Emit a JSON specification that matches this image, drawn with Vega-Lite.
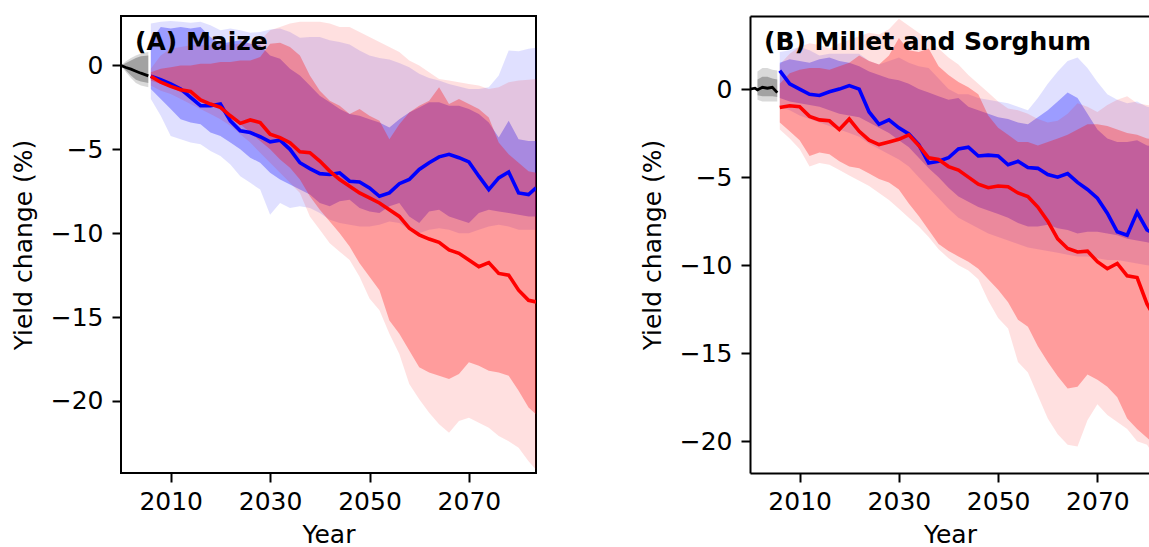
{
  "$schema": "https://vega.github.io/schema/vega-lite/v6.json",
  "padding": {"left": 10, "top": 15, "right": 0, "bottom": 0},
  "background": "white",
  "spacing": 103,
  "config": {
    "font": "DejaVu Sans",
    "view": {"stroke": "#000", "strokeWidth": 2},
    "axis": {
      "labelFont": "DejaVu Sans", "labelFontSize": 25, "labelColor": "#000",
      "titleFont": "DejaVu Sans", "titleFontSize": 25, "titleFontWeight": "normal", "titleColor": "#000",
      "tickColor": "#000", "tickWidth": 2, "tickSize": 9,
      "domainColor": "#000", "domainWidth": 2, "grid": false
    },
    "axisX": {"labelPadding": 7, "titlePadding": 8, "labelFlush": false},
    "axisY": {"labelPadding": 9, "titlePadding": 14, "labelFlush": false}
  },
  "datasets": {
    "maize": [
      {"year":2006,"bol":-2.0,"bil":-1.4,"biu":1.5,"bou":2.5,"rol":-1.2,"ril":-0.9,"riu":-0.4,"rou":-0.2,"bm":-0.64,"rm":-0.64},
      {"year":2008,"bol":-3.0,"bil":-2.0,"biu":2.3,"bou":2.6,"rol":-1.5,"ril":-1.1,"riu":-0.2,"rou":0.6,"bm":-0.85,"rm":-1.0},
      {"year":2010,"bol":-4.2,"bil":-2.6,"biu":2.2,"bou":2.65,"rol":-1.7,"ril":-1.3,"riu":-0.1,"rou":1.0,"bm":-1.1,"rm":-1.25},
      {"year":2012,"bol":-4.4,"bil":-3.2,"biu":2.3,"bou":2.6,"rol":-2.0,"ril":-1.6,"riu":0.0,"rou":1.1,"bm":-1.4,"rm":-1.45},
      {"year":2014,"bol":-4.6,"bil":-3.4,"biu":2.2,"bou":2.55,"rol":-2.3,"ril":-1.9,"riu":0.0,"rou":1.2,"bm":-1.9,"rm":-1.55},
      {"year":2016,"bol":-4.7,"bil":-3.5,"biu":2.3,"bou":2.6,"rol":-2.6,"ril":-2.2,"riu":0.1,"rou":1.2,"bm":-2.4,"rm":-2.05},
      {"year":2018,"bol":-5.1,"bil":-4.0,"biu":1.7,"bou":2.4,"rol":-2.9,"ril":-2.4,"riu":0.1,"rou":1.2,"bm":-2.4,"rm":-2.3},
      {"year":2020,"bol":-5.4,"bil":-4.2,"biu":1.3,"bou":2.1,"rol":-3.2,"ril":-2.6,"riu":0.2,"rou":1.2,"bm":-2.3,"rm":-2.5},
      {"year":2022,"bol":-5.9,"bil":-4.6,"biu":1.4,"bou":2.2,"rol":-3.6,"ril":-3.0,"riu":0.2,"rou":1.25,"bm":-3.3,"rm":-3.0},
      {"year":2024,"bol":-6.6,"bil":-5.0,"biu":1.5,"bou":2.1,"rol":-4.1,"ril":-3.5,"riu":0.3,"rou":1.3,"bm":-3.9,"rm":-3.45},
      {"year":2026,"bol":-7.0,"bil":-5.5,"biu":1.3,"bou":1.95,"rol":-4.6,"ril":-4.0,"riu":0.3,"rou":1.35,"bm":-4.0,"rm":-3.25},
      {"year":2028,"bol":-7.4,"bil":-5.8,"biu":1.2,"bou":2.0,"rol":-5.2,"ril":-4.5,"riu":0.5,"rou":1.5,"bm":-4.25,"rm":-3.4},
      {"year":2030,"bol":-8.9,"bil":-6.4,"biu":0.6,"bou":2.15,"rol":-5.8,"ril":-5.0,"riu":1.3,"rou":2.1,"bm":-4.55,"rm":-4.1},
      {"year":2032,"bol":-8.2,"bil":-6.8,"biu":0.4,"bou":2.2,"rol":-6.4,"ril":-5.6,"riu":1.35,"rou":2.3,"bm":-4.45,"rm":-4.3},
      {"year":2034,"bol":-8.5,"bil":-7.1,"biu":-0.2,"bou":2.0,"rol":-7.0,"ril":-6.1,"riu":1.1,"rou":2.5,"bm":-5.0,"rm":-4.6},
      {"year":2036,"bol":-8.4,"bil":-7.4,"biu":-0.6,"bou":1.65,"rol":-7.6,"ril":-6.8,"riu":0.6,"rou":2.6,"bm":-5.8,"rm":-5.15},
      {"year":2038,"bol":-8.5,"bil":-7.7,"biu":-1.2,"bou":1.7,"rol":-9.0,"ril":-7.8,"riu":-0.6,"rou":2.6,"bm":-6.15,"rm":-5.2},
      {"year":2040,"bol":-8.8,"bil":-8.2,"biu":-1.8,"bou":1.7,"rol":-9.8,"ril":-8.6,"riu":-1.5,"rou":2.6,"bm":-6.45,"rm":-5.7},
      {"year":2042,"bol":-9.2,"bil":-8.4,"biu":-2.2,"bou":1.5,"rol":-10.6,"ril":-9.3,"riu":-2.1,"rou":2.5,"bm":-6.5,"rm":-6.3},
      {"year":2044,"bol":-9.4,"bil":-8.1,"biu":-2.6,"bou":1.4,"rol":-11.1,"ril":-10.0,"riu":-2.4,"rou":2.3,"bm":-6.4,"rm":-6.8},
      {"year":2046,"bol":-9.5,"bil":-8.0,"biu":-2.9,"bou":1.25,"rol":-11.6,"ril":-10.8,"riu":-2.9,"rou":2.3,"bm":-6.9,"rm":-7.2},
      {"year":2048,"bol":-9.6,"bil":-8.5,"biu":-3.0,"bou":0.9,"rol":-12.6,"ril":-11.8,"riu":-2.6,"rou":2.0,"bm":-6.95,"rm":-7.6},
      {"year":2050,"bol":-9.6,"bil":-8.7,"biu":-3.2,"bou":0.6,"rol":-13.9,"ril":-12.6,"riu":-3.0,"rou":1.7,"bm":-7.3,"rm":-7.9},
      {"year":2052,"bol":-9.5,"bil":-8.8,"biu":-3.4,"bou":0.45,"rol":-14.6,"ril":-13.4,"riu":-3.3,"rou":1.4,"bm":-7.8,"rm":-8.2},
      {"year":2054,"bol":-9.3,"bil":-8.4,"biu":-3.7,"bou":0.35,"rol":-16.0,"ril":-15.2,"riu":-4.4,"rou":1.1,"bm":-7.6,"rm":-8.6},
      {"year":2056,"bol":-9.4,"bil":-8.2,"biu":-3.2,"bou":0.15,"rol":-17.2,"ril":-16.0,"riu":-3.5,"rou":0.8,"bm":-7.05,"rm":-9.0},
      {"year":2058,"bol":-9.8,"bil":-9.0,"biu":-2.8,"bou":-0.1,"rol":-19.0,"ril":-17.0,"riu":-2.8,"rou":0.3,"bm":-6.8,"rm":-9.7},
      {"year":2060,"bol":-10.0,"bil":-9.4,"biu":-2.5,"bou":-0.5,"rol":-19.9,"ril":-18.0,"riu":-2.4,"rou":0.0,"bm":-6.2,"rm":-10.1},
      {"year":2062,"bol":-9.8,"bil":-8.7,"biu":-2.2,"bou":-0.75,"rol":-20.7,"ril":-18.3,"riu":-2.1,"rou":-0.4,"bm":-5.8,"rm":-10.35},
      {"year":2064,"bol":-9.7,"bil":-8.6,"biu":-2.2,"bou":-0.9,"rol":-21.4,"ril":-18.5,"riu":-1.3,"rou":-0.8,"bm":-5.45,"rm":-10.55},
      {"year":2066,"bol":-9.8,"bil":-9.0,"biu":-2.4,"bou":-1.1,"rol":-21.9,"ril":-18.7,"riu":-2.3,"rou":-0.9,"bm":-5.3,"rm":-11.0},
      {"year":2068,"bol":-10.0,"bil":-9.2,"biu":-2.4,"bou":-1.25,"rol":-21.2,"ril":-18.4,"riu":-2.0,"rou":-1.0,"bm":-5.5,"rm":-11.2},
      {"year":2070,"bol":-10.0,"bil":-9.4,"biu":-2.6,"bou":-1.4,"rol":-21.0,"ril":-17.7,"riu":-2.3,"rou":-1.1,"bm":-5.75,"rm":-11.6},
      {"year":2072,"bol":-9.8,"bil":-8.8,"biu":-2.9,"bou":-1.4,"rol":-21.3,"ril":-17.9,"riu":-2.6,"rou":-1.2,"bm":-6.6,"rm":-12.0},
      {"year":2074,"bol":-9.6,"bil":-8.6,"biu":-3.4,"bou":-1.3,"rol":-21.6,"ril":-18.2,"riu":-3.1,"rou":-1.4,"bm":-7.4,"rm":-11.75},
      {"year":2076,"bol":-9.5,"bil":-8.7,"biu":-4.3,"bou":-0.6,"rol":-22.1,"ril":-18.3,"riu":-4.6,"rou":-1.3,"bm":-6.7,"rm":-12.4},
      {"year":2078,"bol":-9.6,"bil":-8.8,"biu":-3.3,"bou":0.9,"rol":-22.4,"ril":-18.5,"riu":-5.3,"rou":-1.0,"bm":-6.35,"rm":-12.5},
      {"year":2080,"bol":-9.8,"bil":-8.9,"biu":-4.4,"bou":0.85,"rol":-22.8,"ril":-19.4,"riu":-5.8,"rou":-0.9,"bm":-7.6,"rm":-13.4},
      {"year":2082,"bol":-9.8,"bil":-9.0,"biu":-4.5,"bou":1.0,"rol":-23.6,"ril":-20.4,"riu":-6.3,"rou":-0.85,"bm":-7.7,"rm":-14.0},
      {"year":2083.5,"bol":-9.8,"bil":-9.0,"biu":-4.5,"bou":1.05,"rol":-24.1,"ril":-20.8,"riu":-6.4,"rou":-0.8,"bm":-7.3,"rm":-14.1}
    ],
    "millet": [
      {"year":2006,"bol":-1.0,"bil":-0.5,"biu":1.5,"bou":2.1,"rol":-2.3,"ril":-1.9,"riu":0.3,"rou":1.4,"bm":1.05,"rm":-1.05},
      {"year":2008,"bol":-1.2,"bil":-0.7,"biu":1.7,"bou":2.2,"rol":-2.8,"ril":-2.4,"riu":0.9,"rou":2.0,"bm":0.3,"rm":-0.95},
      {"year":2010,"bol":-1.5,"bil":-0.8,"biu":1.6,"bou":2.4,"rol":-3.4,"ril":-2.9,"riu":1.1,"rou":2.4,"bm":0.0,"rm":-1.0},
      {"year":2012,"bol":-1.7,"bil":-0.9,"biu":1.5,"bou":2.2,"rol":-4.4,"ril":-3.8,"riu":1.2,"rou":2.6,"bm":-0.3,"rm":-1.55},
      {"year":2014,"bol":-1.9,"bil":-1.0,"biu":1.7,"bou":1.9,"rol":-4.2,"ril":-3.6,"riu":1.2,"rou":2.5,"bm":-0.36,"rm":-1.75},
      {"year":2016,"bol":-2.1,"bil":-1.2,"biu":1.8,"bou":2.0,"rol":-4.3,"ril":-3.7,"riu":1.1,"rou":2.3,"bm":-0.15,"rm":-1.8},
      {"year":2018,"bol":-2.3,"bil":-1.4,"biu":1.6,"bou":2.0,"rol":-4.6,"ril":-4.1,"riu":1.3,"rou":2.6,"bm":0.0,"rm":-2.3},
      {"year":2020,"bol":-2.5,"bil":-1.5,"biu":1.5,"bou":2.0,"rol":-4.9,"ril":-4.4,"riu":1.5,"rou":2.8,"bm":0.2,"rm":-1.7},
      {"year":2022,"bol":-2.7,"bil":-1.6,"biu":1.3,"bou":2.0,"rol":-5.2,"ril":-4.5,"riu":1.9,"rou":3.0,"bm":0.0,"rm":-2.4},
      {"year":2024,"bol":-3.1,"bil":-1.9,"biu":1.0,"bou":1.6,"rol":-5.5,"ril":-4.8,"riu":1.6,"rou":3.2,"bm":-1.3,"rm":-2.9},
      {"year":2026,"bol":-3.4,"bil":-2.2,"biu":0.8,"bou":1.4,"rol":-5.9,"ril":-5.1,"riu":1.4,"rou":3.1,"bm":-2.0,"rm":-3.15},
      {"year":2028,"bol":-3.7,"bil":-2.5,"biu":0.6,"bou":1.6,"rol":-6.3,"ril":-5.3,"riu":1.9,"rou":3.4,"bm":-1.75,"rm":-3.0},
      {"year":2030,"bol":-4.0,"bil":-2.9,"biu":0.5,"bou":1.8,"rol":-6.8,"ril":-5.7,"riu":2.9,"rou":4.0,"bm":-2.2,"rm":-2.85},
      {"year":2032,"bol":-4.4,"bil":-3.3,"biu":0.3,"bou":1.5,"rol":-7.3,"ril":-6.5,"riu":2.2,"rou":3.6,"bm":-2.55,"rm":-2.6},
      {"year":2034,"bol":-5.0,"bil":-3.9,"biu":0.0,"bou":1.3,"rol":-7.8,"ril":-7.2,"riu":2.1,"rou":3.2,"bm":-3.15,"rm":-3.2},
      {"year":2036,"bol":-5.6,"bil":-4.5,"biu":-0.2,"bou":1.2,"rol":-8.4,"ril":-8.0,"riu":2.3,"rou":2.8,"bm":-4.2,"rm":-3.9},
      {"year":2038,"bol":-6.2,"bil":-5.0,"biu":-0.4,"bou":0.6,"rol":-9.1,"ril":-8.8,"riu":1.3,"rou":2.3,"bm":-4.1,"rm":-4.0},
      {"year":2040,"bol":-6.8,"bil":-5.6,"biu":-0.6,"bou":0.0,"rol":-9.6,"ril":-9.2,"riu":0.8,"rou":1.8,"bm":-3.9,"rm":-4.4},
      {"year":2042,"bol":-7.3,"bil":-6.1,"biu":-0.5,"bou":-0.3,"rol":-10.0,"ril":-9.5,"riu":0.4,"rou":1.4,"bm":-3.4,"rm":-4.6},
      {"year":2044,"bol":-7.6,"bil":-6.4,"biu":-1.0,"bou":-0.3,"rol":-10.3,"ril":-9.8,"riu":0.1,"rou":0.8,"bm":-3.3,"rm":-5.0},
      {"year":2046,"bol":-7.9,"bil":-6.7,"biu":-1.2,"bou":-0.5,"rol":-10.8,"ril":-10.2,"riu":-0.3,"rou":0.3,"bm":-3.8,"rm":-5.4},
      {"year":2048,"bol":-8.2,"bil":-6.9,"biu":-1.4,"bou":-0.6,"rol":-12.0,"ril":-10.8,"riu":-1.5,"rou":-0.2,"bm":-3.75,"rm":-5.6},
      {"year":2050,"bol":-8.4,"bil":-7.1,"biu":-1.6,"bou":-0.7,"rol":-13.0,"ril":-11.4,"riu":-2.2,"rou":-0.7,"bm":-3.8,"rm":-5.5},
      {"year":2052,"bol":-8.6,"bil":-7.3,"biu":-1.7,"bou":-0.8,"rol":-13.6,"ril":-12.1,"riu":-2.6,"rou":-1.1,"bm":-4.3,"rm":-5.55},
      {"year":2054,"bol":-8.8,"bil":-7.6,"biu":-1.9,"bou":-1.0,"rol":-15.5,"ril":-13.1,"riu":-3.0,"rou":-1.2,"bm":-4.1,"rm":-5.9},
      {"year":2056,"bol":-9.0,"bil":-7.8,"biu":-2.0,"bou":-1.2,"rol":-16.1,"ril":-13.5,"riu":-3.0,"rou":-1.4,"bm":-4.45,"rm":-6.1},
      {"year":2058,"bol":-9.1,"bil":-7.8,"biu":-1.6,"bou":-0.5,"rol":-17.4,"ril":-14.6,"riu":-3.2,"rou":-1.7,"bm":-4.5,"rm":-6.7},
      {"year":2060,"bol":-9.2,"bil":-7.7,"biu":-1.2,"bou":0.3,"rol":-18.7,"ril":-15.5,"riu":-3.0,"rou":-1.9,"bm":-4.85,"rm":-7.5},
      {"year":2062,"bol":-9.3,"bil":-7.9,"biu":-0.7,"bou":1.0,"rol":-19.6,"ril":-16.3,"riu":-2.8,"rou":-1.8,"bm":-5.0,"rm":-8.5},
      {"year":2064,"bol":-9.4,"bil":-8.0,"biu":-0.2,"bou":1.6,"rol":-20.2,"ril":-17.0,"riu":-2.6,"rou":-1.4,"bm":-4.8,"rm":-9.05},
      {"year":2066,"bol":-9.5,"bil":-8.2,"biu":-0.5,"bou":1.8,"rol":-20.3,"ril":-16.9,"riu":-2.3,"rou":-0.8,"bm":-5.3,"rm":-9.25},
      {"year":2068,"bol":-9.5,"bil":-8.1,"biu":-1.4,"bou":1.2,"rol":-18.8,"ril":-16.2,"riu":-2.0,"rou":-1.0,"bm":-5.7,"rm":-9.2},
      {"year":2070,"bol":-9.6,"bil":-8.1,"biu":-2.3,"bou":0.4,"rol":-17.9,"ril":-16.5,"riu":-2.0,"rou":-1.3,"bm":-6.2,"rm":-9.8},
      {"year":2072,"bol":-9.7,"bil":-8.2,"biu":-2.8,"bou":-0.3,"rol":-18.5,"ril":-16.9,"riu":-2.1,"rou":-0.9,"bm":-7.05,"rm":-10.2},
      {"year":2074,"bol":-9.7,"bil":-8.3,"biu":-3.0,"bou":-0.6,"rol":-18.9,"ril":-17.5,"riu":-2.3,"rou":-0.6,"bm":-8.1,"rm":-9.9},
      {"year":2076,"bol":-9.8,"bil":-8.5,"biu":-3.0,"bou":-0.8,"rol":-19.3,"ril":-18.7,"riu":-2.5,"rou":-0.4,"bm":-8.3,"rm":-10.6},
      {"year":2078,"bol":-9.9,"bil":-8.6,"biu":-2.9,"bou":-0.7,"rol":-20.0,"ril":-19.3,"riu":-2.6,"rou":-0.8,"bm":-7.0,"rm":-10.7},
      {"year":2080,"bol":-10.0,"bil":-8.7,"biu":-3.2,"bou":-1.0,"rol":-20.2,"ril":-19.8,"riu":-2.8,"rou":-0.9,"bm":-8.0,"rm":-12.2},
      {"year":2082,"bol":-10.1,"bil":-8.8,"biu":-3.3,"bou":-1.1,"rol":-21.0,"ril":-20.3,"riu":-2.9,"rou":-1.0,"bm":-8.3,"rm":-13.2}
    ],
    "histA": [
      {"year":2000,"med":0.0,"olo":0.0,"ilo":0.0,"ihi":0.0,"ohi":0.0},
      {"year":2001,"med":-0.12,"olo":-0.4,"ilo":-0.3,"ihi":0.15,"ohi":0.25},
      {"year":2002,"med":-0.22,"olo":-0.75,"ilo":-0.6,"ihi":0.3,"ohi":0.45},
      {"year":2003,"med":-0.34,"olo":-1.05,"ilo":-0.85,"ihi":0.45,"ohi":0.6},
      {"year":2004,"med":-0.46,"olo":-1.2,"ilo":-0.95,"ihi":0.55,"ohi":0.72},
      {"year":2005.5,"med":-0.62,"olo":-1.3,"ilo":-1.05,"ihi":0.6,"ohi":0.8}
    ],
    "histB": [
      {"year":2000,"med":0.0},
      {"year":2001,"med":0.05},
      {"year":2001.5,"med":-0.05,"olo":-0.6,"ilo":-0.35,"ihi":0.55,"ohi":1.0},
      {"year":2002.5,"med":0.1,"olo":-0.7,"ilo":-0.4,"ihi":0.7,"ohi":1.2},
      {"year":2003.5,"med":0.05,"olo":-0.7,"ilo":-0.4,"ihi":0.7,"ohi":1.2},
      {"year":2004.5,"med":0.1,"olo":-0.7,"ilo":-0.4,"ihi":0.6,"ohi":1.1},
      {"year":2005.5,"med":-0.2,"olo":-0.7,"ilo":-0.45,"ihi":0.55,"ohi":1.05}
    ]
  },
  "hconcat": [
    {
      "width": 415,
      "height": 457,
      "title": {"text": "(A) Maize", "anchor": "start", "orient": "top", "frame": "group", "offset": -59, "dx": 14, "baseline": "alphabetic", "font": "DejaVu Sans", "fontSize": 25, "fontWeight": "bold", "color": "#000"},
      "encoding": {
        "x": {"field": "year", "type": "quantitative", "title": "Year",
              "scale": {"domain": [2000, 2083.5], "nice": false, "zero": false},
              "axis": {"values": [2010, 2030, 2050, 2070], "format": "d", "domain": false}}
      },
      "layer": [
        {"data": {"name": "histA"}, "mark": {"type": "area", "color": "#000", "opacity": 0.15, "clip": true},
         "encoding": {"y": {"field": "olo", "type": "quantitative", "title": "Yield change (%)",
                            "scale": {"domain": [-24.3, 2.95], "nice": false, "zero": false},
                            "axis": {"values": [0, -5, -10, -15, -20], "domain": false}},
                      "y2": {"field": "ohi"}}},
        {"data": {"name": "histA"}, "mark": {"type": "area", "color": "#000", "opacity": 0.25, "clip": true},
         "encoding": {"y": {"field": "ilo", "type": "quantitative", "title": "Yield change (%)"}, "y2": {"field": "ihi"}}},
        {"data": {"name": "maize"}, "mark": {"type": "area", "color": "#0000ff", "opacity": 0.12, "clip": true},
         "encoding": {"y": {"field": "bol", "type": "quantitative", "title": "Yield change (%)"}, "y2": {"field": "bou"}}},
        {"data": {"name": "maize"}, "mark": {"type": "area", "color": "#0000ff", "opacity": 0.3, "clip": true},
         "encoding": {"y": {"field": "bil", "type": "quantitative", "title": "Yield change (%)"}, "y2": {"field": "biu"}}},
        {"data": {"name": "maize"}, "mark": {"type": "area", "color": "#ff0000", "opacity": 0.12, "clip": true},
         "encoding": {"y": {"field": "rol", "type": "quantitative", "title": "Yield change (%)"}, "y2": {"field": "rou"}}},
        {"data": {"name": "maize"}, "mark": {"type": "area", "color": "#ff0000", "opacity": 0.3, "clip": true},
         "encoding": {"y": {"field": "ril", "type": "quantitative", "title": "Yield change (%)"}, "y2": {"field": "riu"}}},
        {"data": {"name": "histA"}, "mark": {"type": "line", "color": "#000", "strokeWidth": 2.8, "clip": true},
         "encoding": {"y": {"field": "med", "type": "quantitative", "title": "Yield change (%)"}}},
        {"data": {"name": "maize"}, "mark": {"type": "line", "color": "#0000ff", "strokeWidth": 3.6, "clip": true},
         "encoding": {"y": {"field": "bm", "type": "quantitative", "title": "Yield change (%)"}}},
        {"data": {"name": "maize"}, "mark": {"type": "line", "color": "#ff0000", "strokeWidth": 3.6, "clip": true},
         "encoding": {"y": {"field": "rm", "type": "quantitative", "title": "Yield change (%)"}}}
      ]
    },
    {
      "width": 400,
      "height": 457,
      "view": {"stroke": null},
      "title": {"text": "(B) Millet and Sorghum", "anchor": "start", "orient": "top", "frame": "group", "offset": -59, "dx": 14, "baseline": "alphabetic", "font": "DejaVu Sans", "fontSize": 25, "fontWeight": "bold", "color": "#000"},
      "resolve": {"axis": {"x": "independent"}},
      "encoding": {
        "x": {"field": "year", "type": "quantitative", "title": "Year",
              "scale": {"domain": [2000, 2080.6], "nice": false, "zero": false},
              "axis": null}
      },
      "layer": [
        {"data": {"name": "histB"}, "mark": {"type": "area", "color": "#000", "opacity": 0.15, "clip": true},
         "encoding": {
           "x": {"field": "year", "type": "quantitative", "title": "Year",
                 "scale": {"domain": [2000, 2080.6], "nice": false, "zero": false},
                 "axis": {"values": [2010, 2030, 2050, 2070], "format": "d", "domain": true}},
           "y": {"field": "olo", "type": "quantitative", "title": "Yield change (%)",
                 "scale": {"domain": [-21.8, 4.15], "nice": false, "zero": false},
                 "axis": {"values": [0, -5, -10, -15, -20], "domain": true}},
           "y2": {"field": "ohi"}}},
        {"data": {"name": "histB"}, "mark": {"type": "area", "color": "#000", "opacity": 0.25, "clip": true},
         "encoding": {"y": {"field": "ilo", "type": "quantitative", "title": "Yield change (%)"}, "y2": {"field": "ihi"}}},
        {"data": {"name": "millet"}, "mark": {"type": "area", "color": "#0000ff", "opacity": 0.12, "clip": true},
         "encoding": {"y": {"field": "bol", "type": "quantitative", "title": "Yield change (%)"}, "y2": {"field": "bou"}}},
        {"data": {"name": "millet"}, "mark": {"type": "area", "color": "#0000ff", "opacity": 0.3, "clip": true},
         "encoding": {"y": {"field": "bil", "type": "quantitative", "title": "Yield change (%)"}, "y2": {"field": "biu"}}},
        {"data": {"name": "millet"}, "mark": {"type": "area", "color": "#ff0000", "opacity": 0.12, "clip": true},
         "encoding": {"y": {"field": "rol", "type": "quantitative", "title": "Yield change (%)"}, "y2": {"field": "rou"}}},
        {"data": {"name": "millet"}, "mark": {"type": "area", "color": "#ff0000", "opacity": 0.3, "clip": true},
         "encoding": {"y": {"field": "ril", "type": "quantitative", "title": "Yield change (%)"}, "y2": {"field": "riu"}}},
        {"data": {"name": "histB"}, "mark": {"type": "line", "color": "#000", "strokeWidth": 2.8, "clip": true},
         "encoding": {"y": {"field": "med", "type": "quantitative", "title": "Yield change (%)"}}},
        {"data": {"name": "millet"}, "mark": {"type": "line", "color": "#0000ff", "strokeWidth": 3.6, "clip": true},
         "encoding": {"y": {"field": "bm", "type": "quantitative", "title": "Yield change (%)"}}},
        {"data": {"name": "millet"}, "mark": {"type": "line", "color": "#ff0000", "strokeWidth": 3.6, "clip": true},
         "encoding": {
           "x": {"field": "year", "type": "quantitative", "title": null,
                 "scale": {"domain": [2000, 2080.6], "nice": false, "zero": false},
                 "axis": {"orient": "top", "labels": false, "ticks": false, "domain": true, "title": null}},
           "y": {"field": "rm", "type": "quantitative", "title": "Yield change (%)"}}}
      ]
    }
  ]
}
